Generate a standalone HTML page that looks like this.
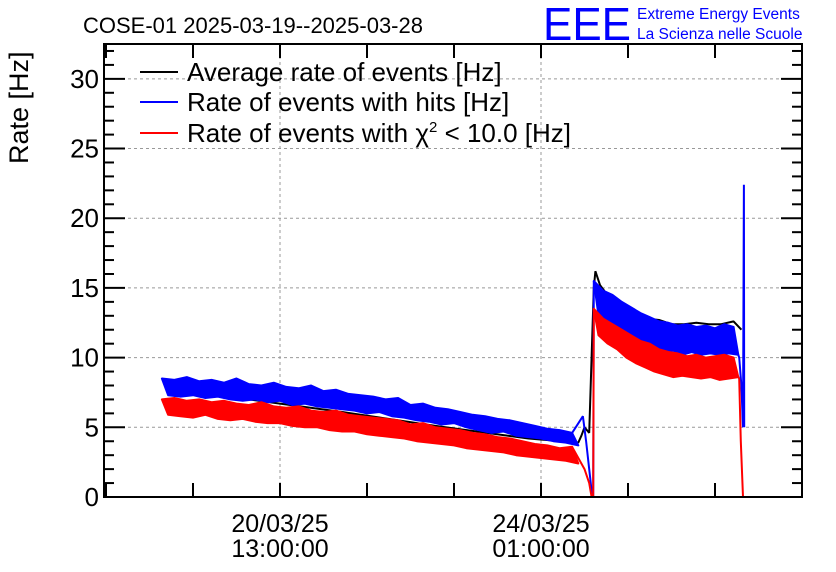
<!DOCTYPE html>
<html><head><meta charset="utf-8"><style>
body{margin:0;background:#fff;}
svg{font-family:"Liberation Sans",sans-serif;display:block}
</style></head><body>
<svg id="c" width="836" height="572">
<text x="83" y="33" font-size="22">COSE-01 2025-03-19--2025-03-28</text>
<text x="543" y="40" font-size="46" fill="#0000ff" textLength="88" lengthAdjust="spacingAndGlyphs">EEE</text>
<text x="637" y="19" font-size="15.5" fill="#0000ff">Extreme Energy Events</text>
<text x="637" y="39" font-size="15.5" fill="#0000ff">La Scienza nelle Scuole</text>
<text transform="translate(28,164) rotate(-90)" font-size="27">Rate [Hz]</text>
<g id="grid"></g><g id="series"></g><g id="axes"></g>
<g>
<line x1="140" y1="72" x2="178" y2="72" stroke="#000" stroke-width="2"/>
<text x="187" y="81" font-size="26">Average rate of events [Hz]</text>
<line x1="140" y1="102" x2="178" y2="102" stroke="#0000ff" stroke-width="2"/>
<text x="187" y="111" font-size="26">Rate of events with hits [Hz]</text>
<line x1="140" y1="133" x2="178" y2="133" stroke="#ff0000" stroke-width="2"/>
<text x="187" y="142" font-size="26">Rate of events with χ<tspan dy="-10" font-size="15">2</tspan><tspan dy="10"> &lt; 10.0 [Hz]</tspan></text>
</g>
</svg>
<script>
const yTicks=[0,5,10,15,20,25,30];
const xLabelT=[0,84];
const xLabelDate=["20/03/25","24/03/25"];
const xLabelTime=["13:00:00","01:00:00"];
const blueSeg1=[8.5,7.3,8.4,7.2,8.6,7.3,8.3,7.1,8.4,7.2,8.2,7.0,8.5,6.9,8.1,7.0,8.0,6.8,8.2,6.9,7.9,6.6,7.8,6.7,8.0,6.5,7.6,6.4,7.7,6.3,7.4,6.2,7.3,6.0,7.2,6.1,7.0,5.8,7.1,5.7,6.6,5.5,6.7,5.4,6.4,5.2,6.3,5.3,6.1,5.0,5.9,4.8,5.8,4.6,5.6,4.7,5.5,4.4,5.3,4.3,5.1,4.2,4.9,4.0,4.8,3.9,4.6,3.7];
const redSeg1=[7.0,5.9,7.1,5.8,6.9,5.7,7.0,5.9,6.8,5.6,6.9,5.5,6.7,5.6,6.6,5.4,6.8,5.3,6.5,5.3,6.4,5.1,6.5,5.0,6.2,5.0,6.1,4.8,6.2,4.7,5.9,4.7,5.8,4.5,5.7,4.4,5.6,4.3,5.5,4.2,5.2,4.0,5.3,3.9,5.0,3.8,4.9,3.7,4.8,3.5,4.6,3.4,4.5,3.3,4.3,3.2,4.2,3.0,4.0,2.9,3.8,2.8,3.7,2.7,3.5,2.6,3.6,2.4];
const blueSeg2=[15.5,13.0,14.8,12.6,14.5,12.2,14.0,11.8,13.6,11.3,13.2,11.0,12.9,10.6,12.6,10.4,12.5,10.5,12.3,10.2,12.4,10.4,12.2,10.2,12.3,10.3,12.1,10.2,12.4,10.3,12.2,10.2];
const redSeg2=[13.5,11.6,12.8,11.0,12.4,10.6,12.0,10.0,11.6,9.6,11.2,9.3,11.0,9.0,10.6,8.8,10.4,8.6,10.3,8.7,10.1,8.6,10.2,8.5,10.0,8.6,10.1,8.4,10.2,8.5,10.0,8.6];
const seg1Start=-38, seg1Step=2, seg2Start=101, seg2Step=1.5;
const blueTailT=[97.5,98.5,99.5,100.5,100.8];
const blueTailV=[5.8,4.0,2.0,0,0];
const blueEndT=[147.8,148.5,149.0,149.3,149.4];
const blueEndV=[10.0,8.0,5.0,22.4,5.0];
const redTailT=[98,99.5,100.3,100.8];
const redTailV=[2.0,1.0,0,0];
const redEndT=[147.8,148.3,149.0];
const redEndV=[8.5,4.0,0];
const blackT=[-37,-10,20,50,80,96,97,98,99.5,101,101.5,103,106,110,114,118,122,126,130,134,138,142,146,148.5];
const blackV=[7.8,7.0,6.1,5.1,4.2,3.9,4.4,5.0,4.6,15.0,16.2,15.2,14.3,13.6,13.1,12.8,12.7,12.4,12.4,12.5,12.4,12.4,12.6,12.0];

const L=104,R=802,T=44,B=497;
const X=t=>280+t*(261/84);
const Y=v=>B-v*((B-T)/32.5);
const NS="http://www.w3.org/2000/svg";
function mk(tag,parent){const e=document.createElementNS(NS,tag);document.getElementById(parent).appendChild(e);return e;}
yTicks.slice(1).forEach(v=>{const l=mk('line','grid');


l.setAttribute('x1',L);l.setAttribute('x2',R);l.setAttribute('y1',Y(v));l.setAttribute('y2',Y(v));
l.setAttribute('stroke','#999');l.setAttribute('stroke-dasharray','3,3');});
xLabelT.forEach(t=>{const l=mk('line','grid');


l.setAttribute('x1',X(t));l.setAttribute('x2',X(t));l.setAttribute('y1',T);l.setAttribute('y2',B);
l.setAttribute('stroke','#999');l.setAttribute('stroke-dasharray','3,3');});
const pt=(t,v)=>X(t).toFixed(1)+','+Y(v).toFixed(1);
function poly(ts,vs,color,name){const p=mk('polyline','series');


p.setAttribute('points',ts.map((t,i)=>pt(t,vs[i])).join(' '));
p.setAttribute('fill','none');p.setAttribute('stroke',color);p.setAttribute('stroke-width','2');p.setAttribute('stroke-linejoin','bevel');}
function band(vals,start,step,color,name){
 const up=[],lo=[];
 vals.forEach((v,i)=>{const t=start+i*step;(i%2==0?up:lo).push(pt(t,v));});
 const p=mk('polygon','series');
 
 
 p.setAttribute('points',up.concat(lo.reverse()).join(' '));
 p.setAttribute('fill',color);p.setAttribute('stroke',color);p.setAttribute('stroke-width','2');p.setAttribute('stroke-linejoin','round');}
poly(blackT,blackV,'#000','average-rate-line');
band(blueSeg1,seg1Start,seg1Step,'#0000ff','hits-band-1');
band(blueSeg2,seg2Start,seg2Step,'#0000ff','hits-band-2');
poly([seg1Start+(blueSeg1.length-2)*seg1Step].concat(blueTailT).concat([seg2Start]),[blueSeg1[blueSeg1.length-2]].concat(blueTailV).concat([blueSeg2[0]]),'#0000ff','hits-drop-line');
poly([seg2Start+(blueSeg2.length-1)*seg2Step].concat(blueEndT),[blueSeg2[blueSeg2.length-1]].concat(blueEndV),'#0000ff','hits-end-line');
band(redSeg1,seg1Start,seg1Step,'#ff0000','chi2-band-1');
band(redSeg2,seg2Start,seg2Step,'#ff0000','chi2-band-2');
poly([seg1Start+(redSeg1.length-2)*seg1Step].concat(redTailT).concat([seg2Start]),[redSeg1[redSeg1.length-2]].concat(redTailV).concat([redSeg2[0]]),'#ff0000','chi2-drop-line');
poly([seg2Start+(redSeg2.length-1)*seg2Step].concat(redEndT),[redSeg2[redSeg2.length-1]].concat(redEndV),'#ff0000','chi2-end-line');
const f=mk('rect','axes');


f.setAttribute('x',L);f.setAttribute('y',T);f.setAttribute('width',R-L);f.setAttribute('height',B-T);f.setAttribute('fill','none');f.setAttribute('stroke','#000');f.setAttribute('stroke-width','2');
function ln(x1,y1,x2,y2,name){const l=mk('line','axes');


l.setAttribute('x1',x1);l.setAttribute('y1',y1);l.setAttribute('x2',x2);l.setAttribute('y2',y2);l.setAttribute('stroke','#000');l.setAttribute('stroke-width','2');}
for(let v=0;v<=32;v++){const len=v%5==0?21:10;ln(L,Y(v),L+len,Y(v),'y-tick');ln(R,Y(v),R-len,Y(v),'y-tick-right');}
for(let k=-2;k<=6;k++){const x=X(k*28);if(x<L||x>R+1)continue;ln(x,B,x,B-14,'x-tick');ln(x,T,x,T+14,'x-tick-top');}
yTicks.forEach(v=>{const t=mk('text','axes');


t.setAttribute('x',99);t.setAttribute('y',Y(v)+9);t.setAttribute('text-anchor','end');t.setAttribute('font-size','26');t.textContent=v;});
xLabelT.forEach((tv,i)=>{[xLabelDate[i],xLabelTime[i]].forEach((s,j)=>{const t=mk('text','axes');


t.setAttribute('x',X(tv));t.setAttribute('y',532+j*25);t.setAttribute('text-anchor','middle');t.setAttribute('font-size','25');t.textContent=s;});});
</script>
</body></html>
